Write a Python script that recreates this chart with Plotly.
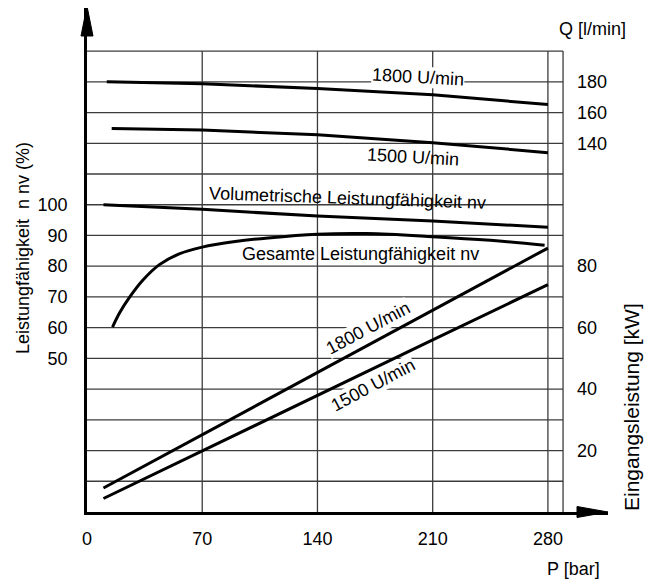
import plotly.graph_objects as go

# ---------------- data ----------------
# Flow Q [l/min] vs pressure P [bar]
p_q1800 = [12, 70, 140, 210, 280]
q_1800 = [180, 178.8, 175.6, 171.6, 165.2]
p_q1500 = [15, 70, 140, 210, 280]
q_1500 = [149.6, 148.6, 145.6, 140.4, 133.9]

# Volumetric efficiency [%]
p_vol = [10, 70, 140, 210, 280]
eta_vol = [100, 98.5, 96.3, 94.7, 92.7]

# Overall efficiency [%]
p_ges = [15.5, 20, 26, 34, 44, 56, 70, 90, 110, 140, 170, 210, 245, 278]
eta_ges = [60.2, 65, 70, 75.5, 80.5, 84, 86.2, 88, 89.2, 90.4, 90.6, 89.6, 88.4, 86.8]

# Input power [kW]
p_kw = [10, 70, 140, 210, 280]
kw_1800 = [7.8, 25.2, 45.5, 65.7, 85.9]
kw_1500 = [4.4, 19.8, 37.9, 56.0, 74.0]

# ticks
x_ticks = [0, 70, 140, 210, 280]
eta_ticks = [50, 60, 70, 80, 90, 100]
kw_ticks = [20, 40, 60, 80]
q_ticks = [140, 160, 180]
grid_y = [10 * i for i in range(1, 16)]   # grid rows (efficiency scale units)
grid_x = [70, 140, 210, 280]
grid_right = 289.2
grid_top = 150

# ---------------- layout geometry ----------------
# The page body adds an 8 px margin; the figure is sized so that its
# content lines up with the 659x582 reference picture.
OFF = 8
W, H = 659 - OFF, 582 - OFF
SX = 521 / 316.5          # px per bar
SY = 3.0727               # px per unit
AX_X, AX_Y = 87 - OFF, 512 - OFF      # origin in figure px
L, T = AX_X, 0
B = H - AX_Y
R = 51
pw, ph = W - L - R, H - T - B
X_RANGE = [0, pw / SX]
Y_RANGE = [0, ph / SY]
Q_RANGE = [2 * (Y_RANGE[0] - 50), 2 * (Y_RANGE[1] - 50)]

def xp(rx):   # reference px -> paper
    return (rx - OFF - L) / pw

def yp(ry):
    return (AX_Y - (ry - OFF)) / ph

def px2x(rx):  # reference px -> data
    return (rx - OFF - L) / SX

def py2y(ry):
    return (AX_Y - (ry - OFF)) / SY

FONT = "Liberation Sans, Arial, sans-serif"
BLACK = "#000000"
GRID = "#3c3c3c"

fig = go.Figure()

line = dict(color=BLACK, width=3)
fig.add_trace(go.Scatter(x=p_q1800, y=q_1800, yaxis="y3", mode="lines", line=line))
fig.add_trace(go.Scatter(x=p_q1500, y=q_1500, yaxis="y3", mode="lines", line=line))
fig.add_trace(go.Scatter(x=p_vol, y=eta_vol, mode="lines", line=line))
fig.add_trace(go.Scatter(x=p_ges, y=eta_ges, mode="lines",
                         line=dict(color=BLACK, width=3, shape="spline")))
fig.add_trace(go.Scatter(x=p_kw, y=kw_1800, yaxis="y2", mode="lines", line=line))
fig.add_trace(go.Scatter(x=p_kw, y=kw_1500, yaxis="y2", mode="lines", line=line))

shapes = []
for gy in grid_y:
    shapes.append(dict(type="line", xref="x", yref="y", x0=0, x1=grid_right, y0=gy, y1=gy,
                       line=dict(color=GRID, width=1.3), layer="below"))
for gx in grid_x + [grid_right]:
    shapes.append(dict(type="line", xref="x", yref="y", x0=gx, x1=gx, y0=0, y1=grid_top,
                       line=dict(color=GRID, width=1.3), layer="below"))
# arrow heads of the axes
ah_w = 6 / pw
tip_y = yp(6)
base_y = yp(36)
shapes.append(dict(type="path", xref="paper", yref="paper",
                   path=f"M {-ah_w},{base_y} L 0,{tip_y} L {ah_w},{base_y} Z",
                   fillcolor=BLACK, line=dict(color=BLACK, width=1)))
ah_h = 5.5 / ph
tip_x = xp(608)
base_x = xp(577)
shapes.append(dict(type="path", xref="paper", yref="paper",
                   path=f"M {base_x},{-ah_h} L {tip_x},0 L {base_x},{ah_h} Z",
                   fillcolor=BLACK, line=dict(color=BLACK, width=1)))

f18 = dict(family=FONT, size=18, color=BLACK)
ann = []
def add_text(text, rx, ry, angle=0, bg=None, font=f18, paper=False):
    a = dict(text=text, showarrow=False, textangle=angle, font=font,
             xanchor="center", yanchor="middle", borderpad=0)
    if paper:
        a.update(xref="paper", yref="paper", x=xp(rx), y=yp(ry))
    else:
        a.update(xref="x", yref="y", x=px2x(rx), y=py2y(ry))
    if bg:
        a["bgcolor"] = bg
    ann.append(a)

add_text("1800 U/min", 418, 77, angle=3, bg="white")
add_text("1500 U/min", 413, 157, angle=3)
add_text("Volumetrische Leistungfähigkeit nv", 347, 198, angle=2)
add_text("Gesamte Leistungfähigkeit nv", 360, 254)
add_text("1800 U/min", 368, 328, angle=-28, bg="white")
add_text("1500 U/min", 373, 385, angle=-28, bg="white")
add_text("Q [l/min]", 592, 29, paper=True)
add_text("P [bar]", 573, 569, paper=True)
add_text("Leistungfähigkeit  n nv (%)", 23, 248, angle=-90, paper=True)
add_text("Eingangsleistung [kW]", 631, 407, angle=-90,
         font=dict(family=FONT, size=21, color=BLACK), paper=True)

tickfont = dict(family=FONT, size=18, color=BLACK)
fig.update_layout(
    width=W, height=H,
    margin=dict(l=L, r=R, t=T, b=B, pad=0, autoexpand=False),
    paper_bgcolor="white", plot_bgcolor="white",
    showlegend=False,
    font=dict(family=FONT, color=BLACK),
    xaxis=dict(range=X_RANGE, tickvals=x_ticks, ticktext=[str(v) for v in x_ticks],
               showgrid=False, zeroline=False, showline=True, linewidth=2.5, linecolor=BLACK,
               ticks="", tickfont=tickfont, ticklabelstandoff=9, fixedrange=True),
    yaxis=dict(range=Y_RANGE, tickvals=eta_ticks, ticktext=[str(v) for v in eta_ticks],
               showgrid=False, zeroline=False, showline=True, linewidth=2.5, linecolor=BLACK,
               ticks="", tickfont=tickfont, ticklabelstandoff=13, fixedrange=True),
    yaxis2=dict(range=Y_RANGE, tickvals=kw_ticks, ticktext=[str(v) for v in kw_ticks],
                overlaying="y", side="right", anchor="free", position=xp(576),
                showgrid=False, zeroline=False, showline=False,
                ticks="", tickfont=tickfont, ticklabelstandoff=0, fixedrange=True),
    yaxis3=dict(range=Q_RANGE, tickvals=q_ticks, ticktext=[str(v) for v in q_ticks],
                overlaying="y", side="right", anchor="free", position=xp(576),
                showgrid=False, zeroline=False, showline=False,
                ticks="", tickfont=tickfont, ticklabelstandoff=0, fixedrange=True),
    shapes=shapes,
    annotations=ann,
)

fig.write_html("out.html")
